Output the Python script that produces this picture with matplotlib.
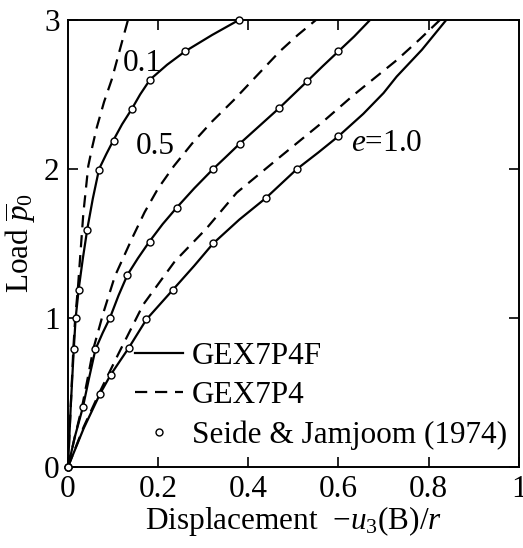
import numpy as np
import matplotlib
matplotlib.use('Agg')
import matplotlib.pyplot as plt
from matplotlib.ticker import FixedLocator, FuncFormatter

plt.rcParams['font.family'] = ['Liberation Serif', 'DejaVu Serif']
plt.rcParams['mathtext.fontset'] = 'custom'
plt.rcParams['mathtext.rm'] = 'Liberation Serif'
plt.rcParams['mathtext.it'] = 'Liberation Serif:italic'

# GEX7P4F (solid)
e01_x = [0, 0.006, 0.013, 0.017, 0.024, 0.033, 0.043, 0.055, 0.069, 0.085, 0.102, 0.12, 0.141, 0.16, 0.182, 0.22, 0.26, 0.32, 0.379]
e01_y = [0, 0.4, 0.8, 1.0, 1.2, 1.4, 1.6, 1.8, 2.0, 2.1, 2.2, 2.3, 2.4, 2.5, 2.6, 2.7, 2.79, 2.9, 3.0]
e05_x = [0, 0.015, 0.033, 0.047, 0.061, 0.077, 0.093, 0.112, 0.132, 0.155, 0.18, 0.21, 0.241, 0.28, 0.322, 0.35, 0.381, 0.425, 0.469, 0.5, 0.531, 0.565, 0.6, 0.635, 0.67]
e05_y = [0, 0.2, 0.4, 0.6, 0.79, 0.9, 1.0, 1.15, 1.29, 1.4, 1.51, 1.63, 1.74, 1.87, 2.0, 2.08, 2.17, 2.29, 2.41, 2.5, 2.59, 2.69, 2.79, 2.89, 3.0]
e10_x = [0, 0.035, 0.071, 0.095, 0.135, 0.174, 0.233, 0.28, 0.322, 0.38, 0.439, 0.508, 0.555, 0.6, 0.655, 0.7, 0.729, 0.785, 0.839]
e10_y = [0, 0.26, 0.49, 0.62, 0.8, 0.99, 1.19, 1.35, 1.5, 1.66, 1.805, 2.0, 2.11, 2.22, 2.37, 2.51, 2.62, 2.8, 3.0]

# GEX7P4 (dashed)
d01_x = [0, 0.006, 0.012, 0.016, 0.022, 0.028, 0.034, 0.045, 0.054, 0.064, 0.08, 0.097, 0.115, 0.133]
d01_y = [0, 0.4, 0.8, 1.0, 1.2, 1.45, 1.7, 2.02, 2.15, 2.28, 2.45, 2.6, 2.8, 3.0]
d05_x = [0, 0.015, 0.031, 0.044, 0.056, 0.078, 0.104, 0.143, 0.17, 0.2, 0.235, 0.275, 0.32, 0.367, 0.42, 0.47, 0.51, 0.55]
d05_y = [0, 0.2, 0.4, 0.6, 0.79, 1.03, 1.28, 1.54, 1.71, 1.87, 2.02, 2.17, 2.32, 2.46, 2.63, 2.79, 2.9, 3.0]
d10_x = [0, 0.035, 0.07, 0.112, 0.167, 0.237, 0.307, 0.374, 0.47, 0.559, 0.635, 0.729, 0.78, 0.825]
d10_y = [0, 0.27, 0.5, 0.76, 1.09, 1.38, 1.6, 1.84, 2.08, 2.3, 2.5, 2.73, 2.87, 3.0]

# Seide & Jamjoom (1974)
s01_x = [0, 0.013, 0.017, 0.024, 0.043, 0.069, 0.102, 0.141, 0.182, 0.26, 0.379]
s01_y = [0, 0.79, 1.0, 1.19, 1.59, 1.99, 2.19, 2.4, 2.6, 2.79, 3.0]
s05_x = [0, 0.033, 0.061, 0.093, 0.132, 0.182, 0.241, 0.322, 0.381, 0.469, 0.531, 0.6]
s05_y = [0, 0.4, 0.79, 1.0, 1.29, 1.51, 1.74, 2.0, 2.17, 2.41, 2.59, 2.79]
s10_x = [0, 0.071, 0.095, 0.135, 0.174, 0.233, 0.322, 0.439, 0.508, 0.6]
s10_y = [0, 0.49, 0.62, 0.8, 0.99, 1.19, 1.5, 1.805, 2.0, 2.22]

fs = 22.5
fig = plt.figure(figsize=(5.23, 5.48), dpi=100)
ax = fig.add_axes([0.130, 0.148, 0.862, 0.8155])

lw = 1.6
for x, y in [(e01_x, e01_y), (e05_x, e05_y), (e10_x, e10_y)]:
    ax.plot(x, y, color='black', lw=lw, solid_joinstyle='round')
for x, y in [(d01_x, d01_y), (d05_x, d05_y), (d10_x, d10_y)]:
    ax.plot(x, y, color='black', lw=lw, dashes=(5.5, 3.5))
for x, y in [(s01_x, s01_y), (s05_x, s05_y), (s10_x, s10_y)]:
    ax.plot(x, y, ls='none', marker='o', ms=5, mfc='white', mec='black', mew=1.0, clip_on=False, zorder=3)

h1, = ax.plot([], [], color='black', lw=lw, label='GEX7P4F')
h2, = ax.plot([], [], color='black', lw=lw, dashes=(5.5, 3.5), label='GEX7P4')
h3, = ax.plot([], [], ls='none', marker='o', ms=5, mfc='white', mec='black', mew=1.0, label='Seide & Jamjoom (1974)')
ax.legend(handles=[h1, h2, h3], loc='upper left', bbox_to_anchor=(0.148, 0.28), frameon=False,
          fontsize=fs, borderpad=0, borderaxespad=0, handlelength=1.54, handletextpad=0.29,
          labelspacing=0.33)

ax.text(0.164, 2.71, '0.1', fontsize=fs, ha='center', va='center')
ax.text(0.193, 2.15, '0.5', fontsize=fs, ha='center', va='center')
ax.text(0.628, 2.17, '$e$=1.0', fontsize=fs, ha='left', va='center')

ax.set_xlim(0, 1)
ax.set_ylim(0, 3)
ax.xaxis.set_major_locator(FixedLocator([0, 0.2, 0.4, 0.6, 0.8, 1.0]))
ax.yaxis.set_major_locator(FixedLocator([0, 1, 2, 3]))
ax.xaxis.set_major_formatter(FuncFormatter(lambda v, p: '%g' % v))
ax.yaxis.set_major_formatter(FuncFormatter(lambda v, p: '%g' % v))
ax.tick_params(direction='in', length=7, width=1.2, top=True, right=True, labelsize=fs, pad=6)
for s in ax.spines.values():
    s.set_linewidth(1.4)

ax.set_xlabel(r'Displacement  $-u_3$(B)/$r$', fontsize=fs, labelpad=0)
ax.set_ylabel(r'Load $\overline{p}_0$', fontsize=fs, labelpad=4)

fig.savefig('out.png', dpi=100)
